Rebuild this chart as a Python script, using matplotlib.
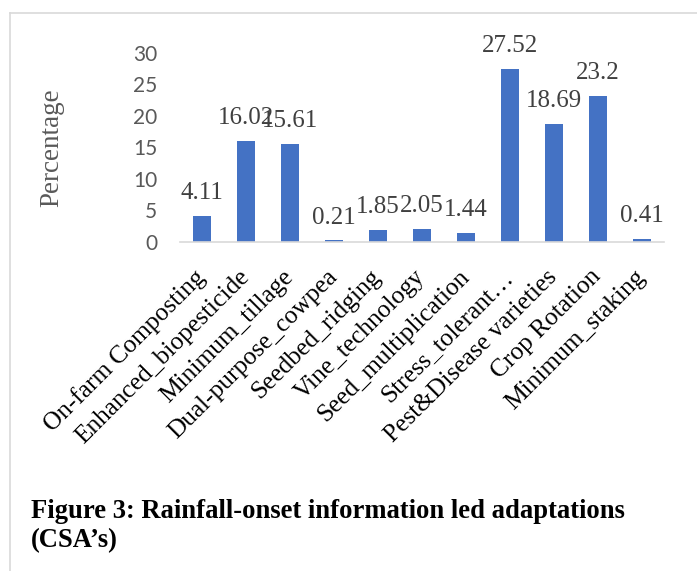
import matplotlib.pyplot as plt
import matplotlib.transforms as mtransforms
from matplotlib.lines import Line2D

categories = ['On-farm Composting', 'Enhanced_biopesticide', 'Minimum_tillage',
              'Dual-purpose_cowpea', 'Seedbed_ridging', 'Vine_technology',
              'Seed_multiplication', 'Stress_tolerant\u2026', 'Pest&Disease varieties',
              'Crop Rotation', 'Minimum_staking']
values = [4.11, 16.02, 15.61, 0.21, 1.85, 2.05, 1.44, 27.52, 18.69, 23.2, 0.41]
value_labels = ['4.11', '16.02', '15.61', '0.21', '1.85', '2.05', '1.44', '27.52', '18.69', '23.2', '0.41']
yticks = [0, 5, 10, 15, 20, 25, 30]

plt.rcParams['font.family'] = ['Liberation Serif', 'DejaVu Serif']
W, H = 697, 571

fig = plt.figure(figsize=(6.97, 5.71), dpi=100)
ax = fig.add_axes([180/W, 1 - 241.7/H, 484/W, 188.7/H])

x = list(range(len(categories)))
ax.bar(x, values, width=0.4, color='#4472c4')
for xi, v, lab in zip(x, values, value_labels):
    ax.annotate(lab, (xi, v), xytext=(0, 12), textcoords='offset points',
                ha='center', va='baseline', fontsize=18, color='#404040',
                annotation_clip=False)

ax.set_xlim(-0.5, len(categories) - 0.5)
ax.set_ylim(0, 30)
ax.set_yticks(yticks)
ax.set_yticklabels([str(t) for t in yticks], family=['Lato', 'DejaVu Sans'])
ax.set_xticks(x)
ax.set_xticklabels(categories, rotation=45, ha='right', va='top', rotation_mode='anchor',
                   fontsize=18.3, color='black')
ax.tick_params(axis='y', length=0, pad=16.5, labelsize=15, labelcolor='#595959')
ax.tick_params(axis='x', length=0, pad=13)
# nudge category labels down-left along their slant
shift = mtransforms.ScaledTranslation(-8/100, -6/100, fig.dpi_scale_trans)
for lbl in ax.get_xticklabels():
    lbl.set_transform(lbl.get_transform() + shift)
for s in ['top', 'right', 'left']:
    ax.spines[s].set_visible(False)
ax.spines['bottom'].set_color('#d9d9d9')
ax.spines['bottom'].set_linewidth(1.2)

fig.text(52/W, 1 - 147.5/H, 'Percentage', rotation=90, ha='center', va='center',
         fontsize=19.5, color='#595959')

# frame around chart
fig.add_artist(Line2D([10/W, 10/W], [0, 1 - 13/H], color='#d9d9d9', lw=1.2))
fig.add_artist(Line2D([10/W, 1], [1 - 13/H, 1 - 13/H], color='#d9d9d9', lw=1.2))

fig.text(31/W, 1 - 518/H, 'Figure 3: Rainfall-onset information led adaptations',
         fontsize=19.2, fontweight='bold', va='baseline', ha='left')
fig.text(31/W, 1 - 547/H, '(CSA\u2019s)', fontsize=19.2, fontweight='bold', va='baseline', ha='left')

fig.savefig('out.png', dpi=100)
